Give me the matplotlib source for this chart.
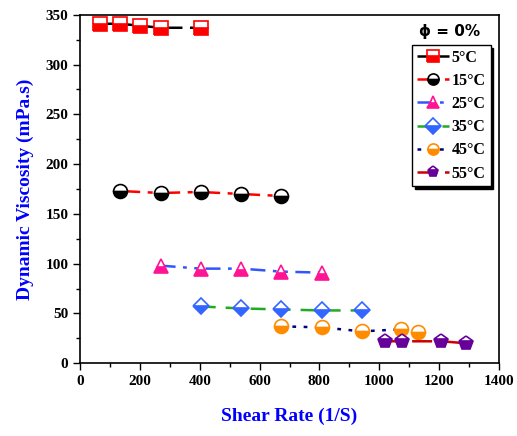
import numpy as np
import matplotlib
matplotlib.use('Agg')
from matplotlib import pyplot as plt
from matplotlib.ticker import MultipleLocator

# shear rate (1/S) and dynamic viscosity (mPa.s) per temperature
rate_5 = [67, 134, 201, 269, 403]
visc_5 = [341, 341, 339, 337, 337]
rate_15 = [134, 269, 403, 538, 672]
visc_15 = [173, 171, 172, 170, 168]
rate_25 = [269, 403, 538, 672, 807]
visc_25 = [98, 95, 95, 92, 91]
rate_35 = [403, 538, 672, 807, 942]
visc_35 = [57, 55, 54, 53, 53]
rate_45 = [672, 807, 942, 1072, 1130]
visc_45 = [37, 36, 32, 34, 31]
rate_55 = [1018, 1075, 1208, 1290]
visc_55 = [22, 22, 22, 20]

labels = ['5°C', '15°C', '25°C', '35°C', '45°C', '55°C']

plt.rcParams['font.family'] = ['Liberation Serif', 'DejaVu Serif']
plt.rcParams['font.weight'] = 'bold'

fig = plt.figure(figsize=(5.17, 4.36), dpi=100)
ax = fig.add_axes([0.155, 0.167, 0.81, 0.799])

styles = [
    (rate_5, visc_5, 'black', (0, (6, 3)), 's', 'red', 'red'),
    (rate_15, visc_15, 'red', (0, (8, 3, 2, 3)), 'o', 'black', 'black'),
    (rate_25, visc_25, '#3355ff', (0, (6, 3, 1.5, 3, 1.5, 3)), '^', '#ff1493', '#ff1493'),
    (rate_35, visc_35, '#22aa22', (0, (6, 4)), 'D', '#3366ff', '#3366ff'),
    (rate_45, visc_45, '#000080', (0, (1.5, 3)), 'o', '#ff8c00', '#ff8c00'),
    (rate_55, visc_55, '#cc0000', (0, (8, 3)), 'p', '#660099', '#660099'),
]

for (x, y, lc, ls, mk, fc, ec), lab in zip(styles, labels):
    ms = 10 if mk != 'D' else 8.5
    ax.plot(x, y, color=lc, linestyle=ls, linewidth=1.8, marker=mk,
            markersize=ms, markerfacecolor=fc, markerfacecoloralt='white',
            fillstyle='bottom', markeredgecolor=ec, markeredgewidth=1.2,
            label=lab)

ax.set_xlim(0, 1400)
ax.set_ylim(0, 350)
ax.xaxis.set_major_locator(MultipleLocator(200))
ax.xaxis.set_minor_locator(MultipleLocator(100))
ax.yaxis.set_major_locator(MultipleLocator(50))
ax.yaxis.set_minor_locator(MultipleLocator(25))
ax.tick_params(which='major', length=5, width=1, labelsize=11)
ax.tick_params(which='minor', length=3, width=1)
for s in ax.spines.values():
    s.set_linewidth(1.2)

ax.set_xlabel('Shear Rate (1/S)', color='blue', fontsize=14, fontweight='bold', labelpad=14)
ax.set_ylabel('Dynamic Viscosity (mPa.s)', color='blue', fontsize=14, fontweight='bold', labelpad=8)

leg = ax.legend(loc='upper left', bbox_to_anchor=(0.792, 0.914), fontsize=11.5,
                handlelength=2.0, handletextpad=0.2, borderpad=0.3,
                borderaxespad=0.0, labelspacing=0.45, fancybox=False,
                edgecolor='black', framealpha=1,
                shadow={'color': 'black', 'alpha': 1})
leg.get_frame().set_linewidth(1.0)
for h in leg.legend_handles:
    h.set_markersize(8)

ax.text(0.883, 0.952, 'ϕ = 0%', transform=ax.transAxes, ha='center', va='center',
        fontsize=11, fontweight='bold', family=['DejaVu Sans'])

fig.savefig('out.png', dpi=100)
